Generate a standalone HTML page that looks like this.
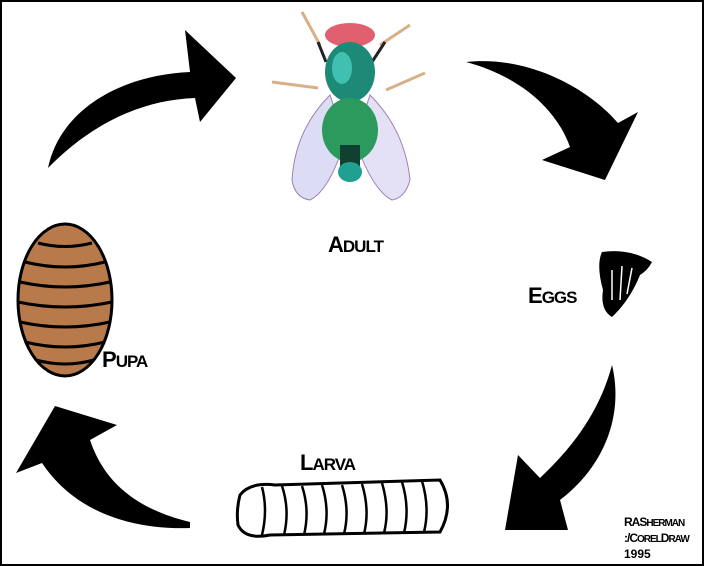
<!DOCTYPE html>
<html><head><style>
html,body{margin:0;padding:0;background:#fff}
svg{display:block}
text{font-family:"Liberation Sans",sans-serif;font-weight:bold}
</style></head><body>
<svg width="704" height="566" viewBox="0 0 704 566" xmlns="http://www.w3.org/2000/svg">
<rect x="1" y="1" width="702" height="564" fill="#fff" stroke="#000" stroke-width="2"/>
<!-- top-left arrow -->
<path d="M48,168 C60,110 120,75 190,72 L185,30 L236,78 L200,122 L195,98 C140,100 90,125 48,168 Z" fill="#000"/>
<!-- top-right arrow -->
<path d="M466,62 C530,55 590,90 618,123 L638,112 L605,180 L542,160 L570,147 C555,105 515,75 466,62 Z" fill="#000"/>
<!-- right arrow -->
<path d="M612,365 C625,420 600,470 560,500 L568,530 L505,530 L518,455 L540,478 C575,445 600,410 612,365 Z" fill="#000"/>
<!-- bottom-left arrow -->
<path d="M190,528 C120,530 70,505 42,463 L16,473 L55,406 L117,425 L90,440 C105,485 140,510 190,522 Z" fill="#000"/>
<!-- pupa -->
<ellipse cx="65" cy="300" rx="47" ry="76" fill="#b87a4b" stroke="#000" stroke-width="3"/>
<g stroke="#000" stroke-width="3" fill="none">
<path d="M38,243 Q65,250 92,243"/><path d="M25,262 Q65,272 105,262"/><path d="M20,282 Q65,292 110,282"/>
<path d="M18,302 Q65,312 112,302"/><path d="M20,322 Q65,332 110,322"/><path d="M25,342 Q65,352 105,342"/><path d="M36,360 Q65,368 94,360"/>
</g>
<!-- larva -->
<path d="M240,495 Q250,482 275,485 L440,480 Q455,505 440,532 L270,535 Q245,540 238,525 Q236,510 240,495 Z" fill="#fff" stroke="#000" stroke-width="3"/>
<g stroke="#000" stroke-width="2.5" fill="none">
<path d="M262,487 Q268,510 262,535"/><path d="M282,486 Q290,510 284,535"/><path d="M302,486 Q310,510 304,535"/>
<path d="M322,485 Q330,510 324,534"/><path d="M342,485 Q350,510 344,534"/><path d="M362,484 Q370,510 364,534"/>
<path d="M382,483 Q390,510 384,533"/><path d="M402,482 Q410,508 404,533"/><path d="M422,481 Q430,508 424,532"/>
</g>
<!-- eggs -->
<path d="M602,252 Q630,248 652,262 Q648,270 640,275 Q630,300 612,317 Q600,310 603,290 Q596,265 602,252 Z" fill="#000"/>
<g stroke="#fff" stroke-width="1.5" fill="none"><path d="M612,270 L612,300"/><path d="M622,266 L620,300"/><path d="M632,268 L627,294"/></g>
<!-- fly -->
<g>
<g stroke="#d8b088" stroke-width="3" fill="none">
<path d="M302,12 L320,45"/><path d="M410,25 L380,45"/><path d="M272,82 L318,88"/><path d="M425,73 L386,90"/>
</g>
<g stroke="#222" stroke-width="3"><path d="M318,42 L326,62"/><path d="M385,42 L372,62"/></g>
<path d="M330,95 Q295,130 292,180 Q295,198 310,200 Q330,190 345,140 Z" fill="#dcdcf4" stroke="#a080b0"/>
<path d="M370,95 Q405,130 410,180 Q405,198 392,200 Q372,190 355,140 Z" fill="#e4e0f6" stroke="#a080b0"/>
<ellipse cx="350" cy="35" rx="25" ry="12" fill="#e06070"/>
<ellipse cx="350" cy="72" rx="25" ry="30" fill="#1d8a78"/>
<ellipse cx="342" cy="68" rx="10" ry="16" fill="#40c0b0"/>
<ellipse cx="350" cy="130" rx="28" ry="32" fill="#2c9a5c"/>
<rect x="340" y="145" width="20" height="22" fill="#104030"/>
<ellipse cx="350" cy="172" rx="12" ry="10" fill="#20a090"/>
</g>
<text x="328" y="252" font-size="22" letter-spacing="-1">A<tspan font-size="17">DULT</tspan></text>
<text x="528" y="303" font-size="22" letter-spacing="-1">E<tspan font-size="17">GGS</tspan></text>
<text x="102" y="367" font-size="22" letter-spacing="-1">P<tspan font-size="17">UPA</tspan></text>
<text x="300" y="470" font-size="22" letter-spacing="-1">L<tspan font-size="17">ARVA</tspan></text>
<text x="624" y="526" font-size="12" letter-spacing="-1">RAS<tspan font-size="10">HERMAN</tspan></text>
<text x="624" y="542" font-size="12" letter-spacing="-1">:/C<tspan font-size="10">OREL</tspan>D<tspan font-size="10">RAW</tspan></text>
<text x="624" y="558" font-size="12">1995</text>
</svg>
</body></html>
